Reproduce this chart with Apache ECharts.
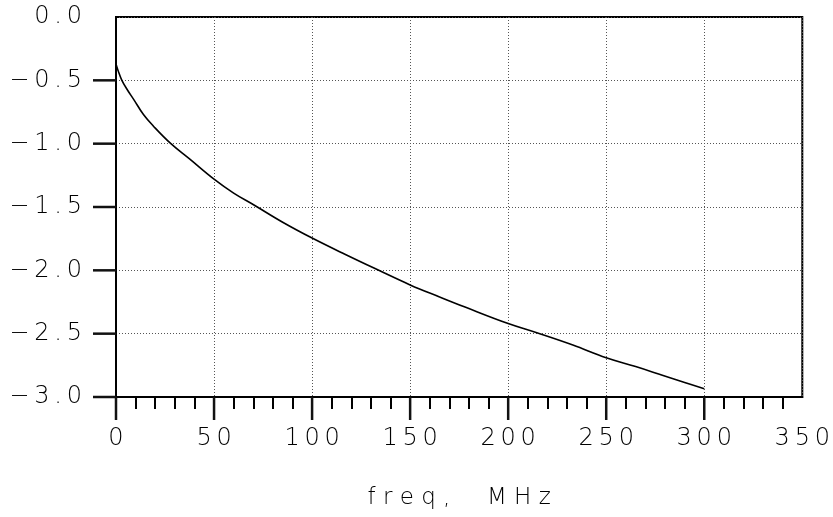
<!DOCTYPE html>
<html>
<head>
<meta charset="utf-8">
<script src="https://cdn.jsdelivr.net/npm/echarts@6/dist/echarts.min.js"></script>
<style>
  html, body { margin: 0; padding: 0; background: #fff; }
  #chart { width: 833px; height: 517px; }
</style>
</head>
<body>
<div id="chart"></div>
<script>
  // frequency (MHz) and response
  const freq = [0, 1, 3, 6, 9, 14, 19, 28, 37.5, 50, 60, 71, 85, 100, 117, 134, 150, 165, 178, 200, 215, 233, 250, 265, 279, 290, 300];
  const resp = [-0.37, -0.42, -0.5, -0.58, -0.65, -0.77, -0.86, -1.0, -1.12, -1.28, -1.39, -1.49, -1.62, -1.745, -1.875, -2.0, -2.115, -2.21, -2.29, -2.42, -2.495, -2.59, -2.69, -2.76, -2.83, -2.885, -2.935];
  // long ticks stop short of the far ends (no tick at 350 or at 0.0)
  const xMajorTicks = [0, 50, 100, 150, 200, 250, 300];
  const yMajorTicks = [-3, -2.5, -2, -1.5, -1, -0.5];
  const xRange = [0, 350];
  const yRange = [-3, 0];
  const xName = 'freq, MHz';

  const font = '"DejaVu Sans", sans-serif';
  const spaced = s => s.split('').join('\u2009');
  const TICK = 23;

  // outward major ticks, placed through the axes' own scales
  function tickSeries(values, horizontal){
    return {
      type: 'custom',
      silent: true,
      z: 100,
      data: values.map(v => horizontal ? [v, yRange[0]] : [xRange[0], v]),
      renderItem: (params, api) => {
        const p = api.coord([api.value(0), api.value(1)]);
        const shape = horizontal
          ? { x1: p[0], y1: p[1], x2: p[0], y2: p[1] + TICK }
          : { x1: p[0], y1: p[1], x2: p[0] - TICK, y2: p[1] };
        return { type: 'line', shape, style: { stroke: '#111', lineWidth: 2.5 } };
      }
    };
  }

  const hiddenTick = { show: true, length: 23, lineStyle: { color: 'rgba(0,0,0,0)', width: 2 } };

  const chart = echarts.init(document.getElementById('chart'), null, { renderer: 'canvas' });
  chart.setOption({
    animation: false,
    grid: { left: 116, right: 27, top: 17, bottom: 120, show: true, borderColor: '#000', borderWidth: 2 },
    xAxis: {
      type: 'value', min: xRange[0], max: xRange[1], interval: 50,
      name: xName.split('').join(' ').replace(',  ', ',    '),
      nameLocation: 'middle', nameGap: 90,
      nameTextStyle: { fontFamily: font, fontSize: 23, fontWeight: 200, color: '#000' },
      axisLine: { onZero: false, lineStyle: { color: '#000', width: 2 } },
      axisTick: hiddenTick,
      minorTick: { show: true, splitNumber: 5, length: 12, lineStyle: { color: '#000', width: 2 } },
      axisLabel: {
        margin: 30, showMinLabel: true, showMaxLabel: true,
        fontFamily: font, fontSize: 24, fontWeight: 200, color: '#000',
        formatter: v => spaced(String(v))
      },
      splitLine: { show: true, lineStyle: { color: '#555', type: [1, 2], width: 1 } }
    },
    yAxis: {
      type: 'value', min: yRange[0], max: yRange[1], interval: 0.5,
      axisLine: { show: true, onZero: false, lineStyle: { color: '#000', width: 2 } },
      axisTick: hiddenTick,
      axisLabel: {
        margin: 34, showMinLabel: true, showMaxLabel: true,
        fontFamily: font, fontSize: 24, fontWeight: 200, color: '#000',
        formatter: v => spaced(v.toFixed(1).replace('-', '\u2212'))
      },
      splitLine: { show: true, lineStyle: { color: '#555', type: [1, 2], width: 1 } }
    },
    series: [{
      type: 'line',
      data: freq.map((f, i) => [f, resp[i]]),
      smooth: 0.4,
      showSymbol: false,
      lineStyle: { color: '#000', width: 1.6 }
    },
    tickSeries(xMajorTicks, true),
    tickSeries(yMajorTicks, false)]
  });
</script>
</body>
</html>
